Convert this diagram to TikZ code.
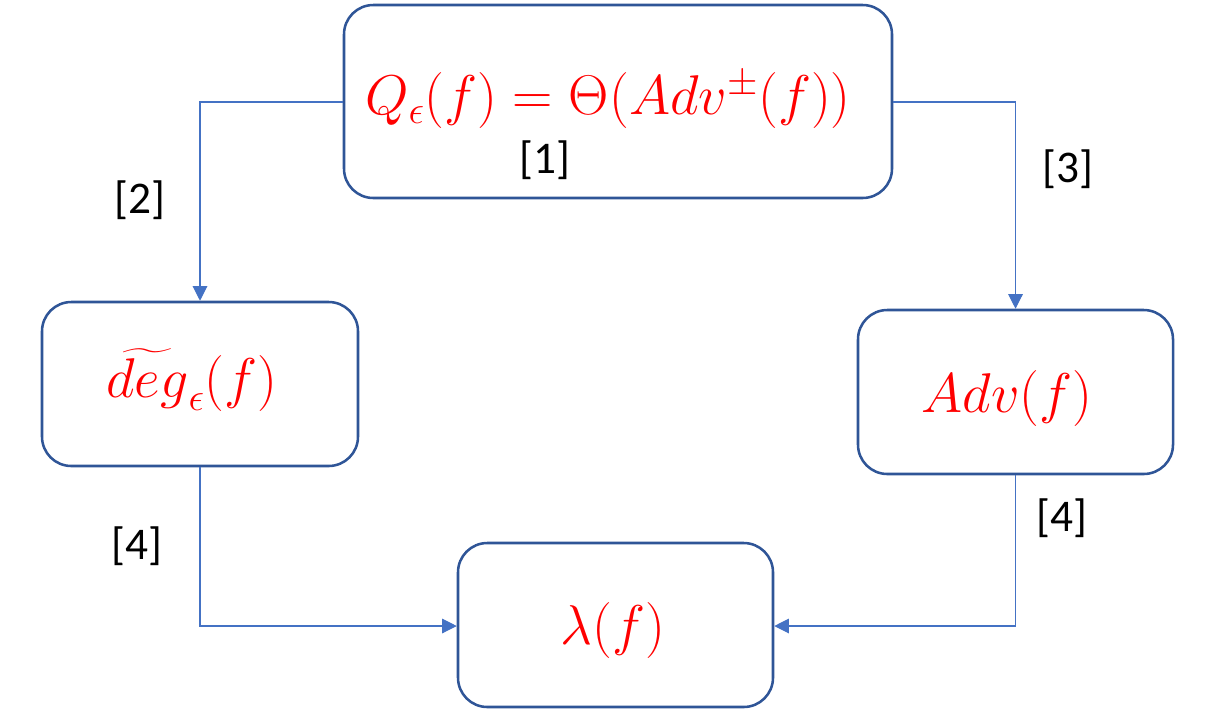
\documentclass[tikz,border=0pt]{standalone}
\usepackage{fix-cm}
\usepackage{amsmath}
\usepackage{fontspec}
\setmainfont{Carlito}
\usetikzlibrary{arrows.meta}
\definecolor{boxc}{HTML}{2F5597}
\definecolor{linec}{HTML}{4472C4}
\definecolor{mred}{HTML}{FF0000}
\begin{document}
\begin{tikzpicture}[x=0.75pt,y=-0.75pt,
  box/.style={draw=boxc,line width=1.9pt,rounded corners=22pt,fill=white,inner sep=0pt},
  mtext/.style={text=mred,font=\fontsize{42}{48}\selectfont},
  lbl/.style={font=\fontsize{34}{40}\selectfont,text=black},
  conn/.style={draw=linec,line width=0.8pt,-{Triangle[length=11pt,width=11pt]}}]
\useasboundingbox (0,0) rectangle (1230,715);
\node[box,minimum width=548*0.75pt,minimum height=193*0.75pt] (top) at (618,101.5) {};
\node[box,minimum width=316*0.75pt,minimum height=164*0.75pt] (left) at (200,384) {};
\node[box,minimum width=315*0.75pt,minimum height=164*0.75pt] (right) at (1015.5,392) {};
\node[box,minimum width=315*0.75pt,minimum height=164*0.75pt] (bot) at (615.5,625) {};
\node[mtext] (ttop) at (608,100) {$Q_\epsilon(f)=\Theta(Adv^{\pm}(f))$};
\node[mtext] (tleft) at (192,380) {$\widetilde{deg}_\epsilon(f)$};
\node[mtext] (tright) at (1007,398) {$Adv(f)$};
\node[mtext] (tbot) at (613,630) {$\lambda(f)$};
\node[lbl] (l1) at (545,160) {[1]};
\node[lbl] (l2) at (140,200) {[2]};
\node[lbl] (l3) at (1068,169) {[3]};
\node[lbl] (l4a) at (137,546) {[4]};
\node[lbl] (l4b) at (1062,518) {[4]};
\draw[conn] (top.west |- 0,102) -| (left.north);
\draw[conn] (top.east |- 0,102) -| (right.north);
\draw[conn] (left.south) |- (bot.west |- 0,626);
\draw[conn] (right.south) |- (bot.east |- 0,626);
\end{tikzpicture}
\end{document}
